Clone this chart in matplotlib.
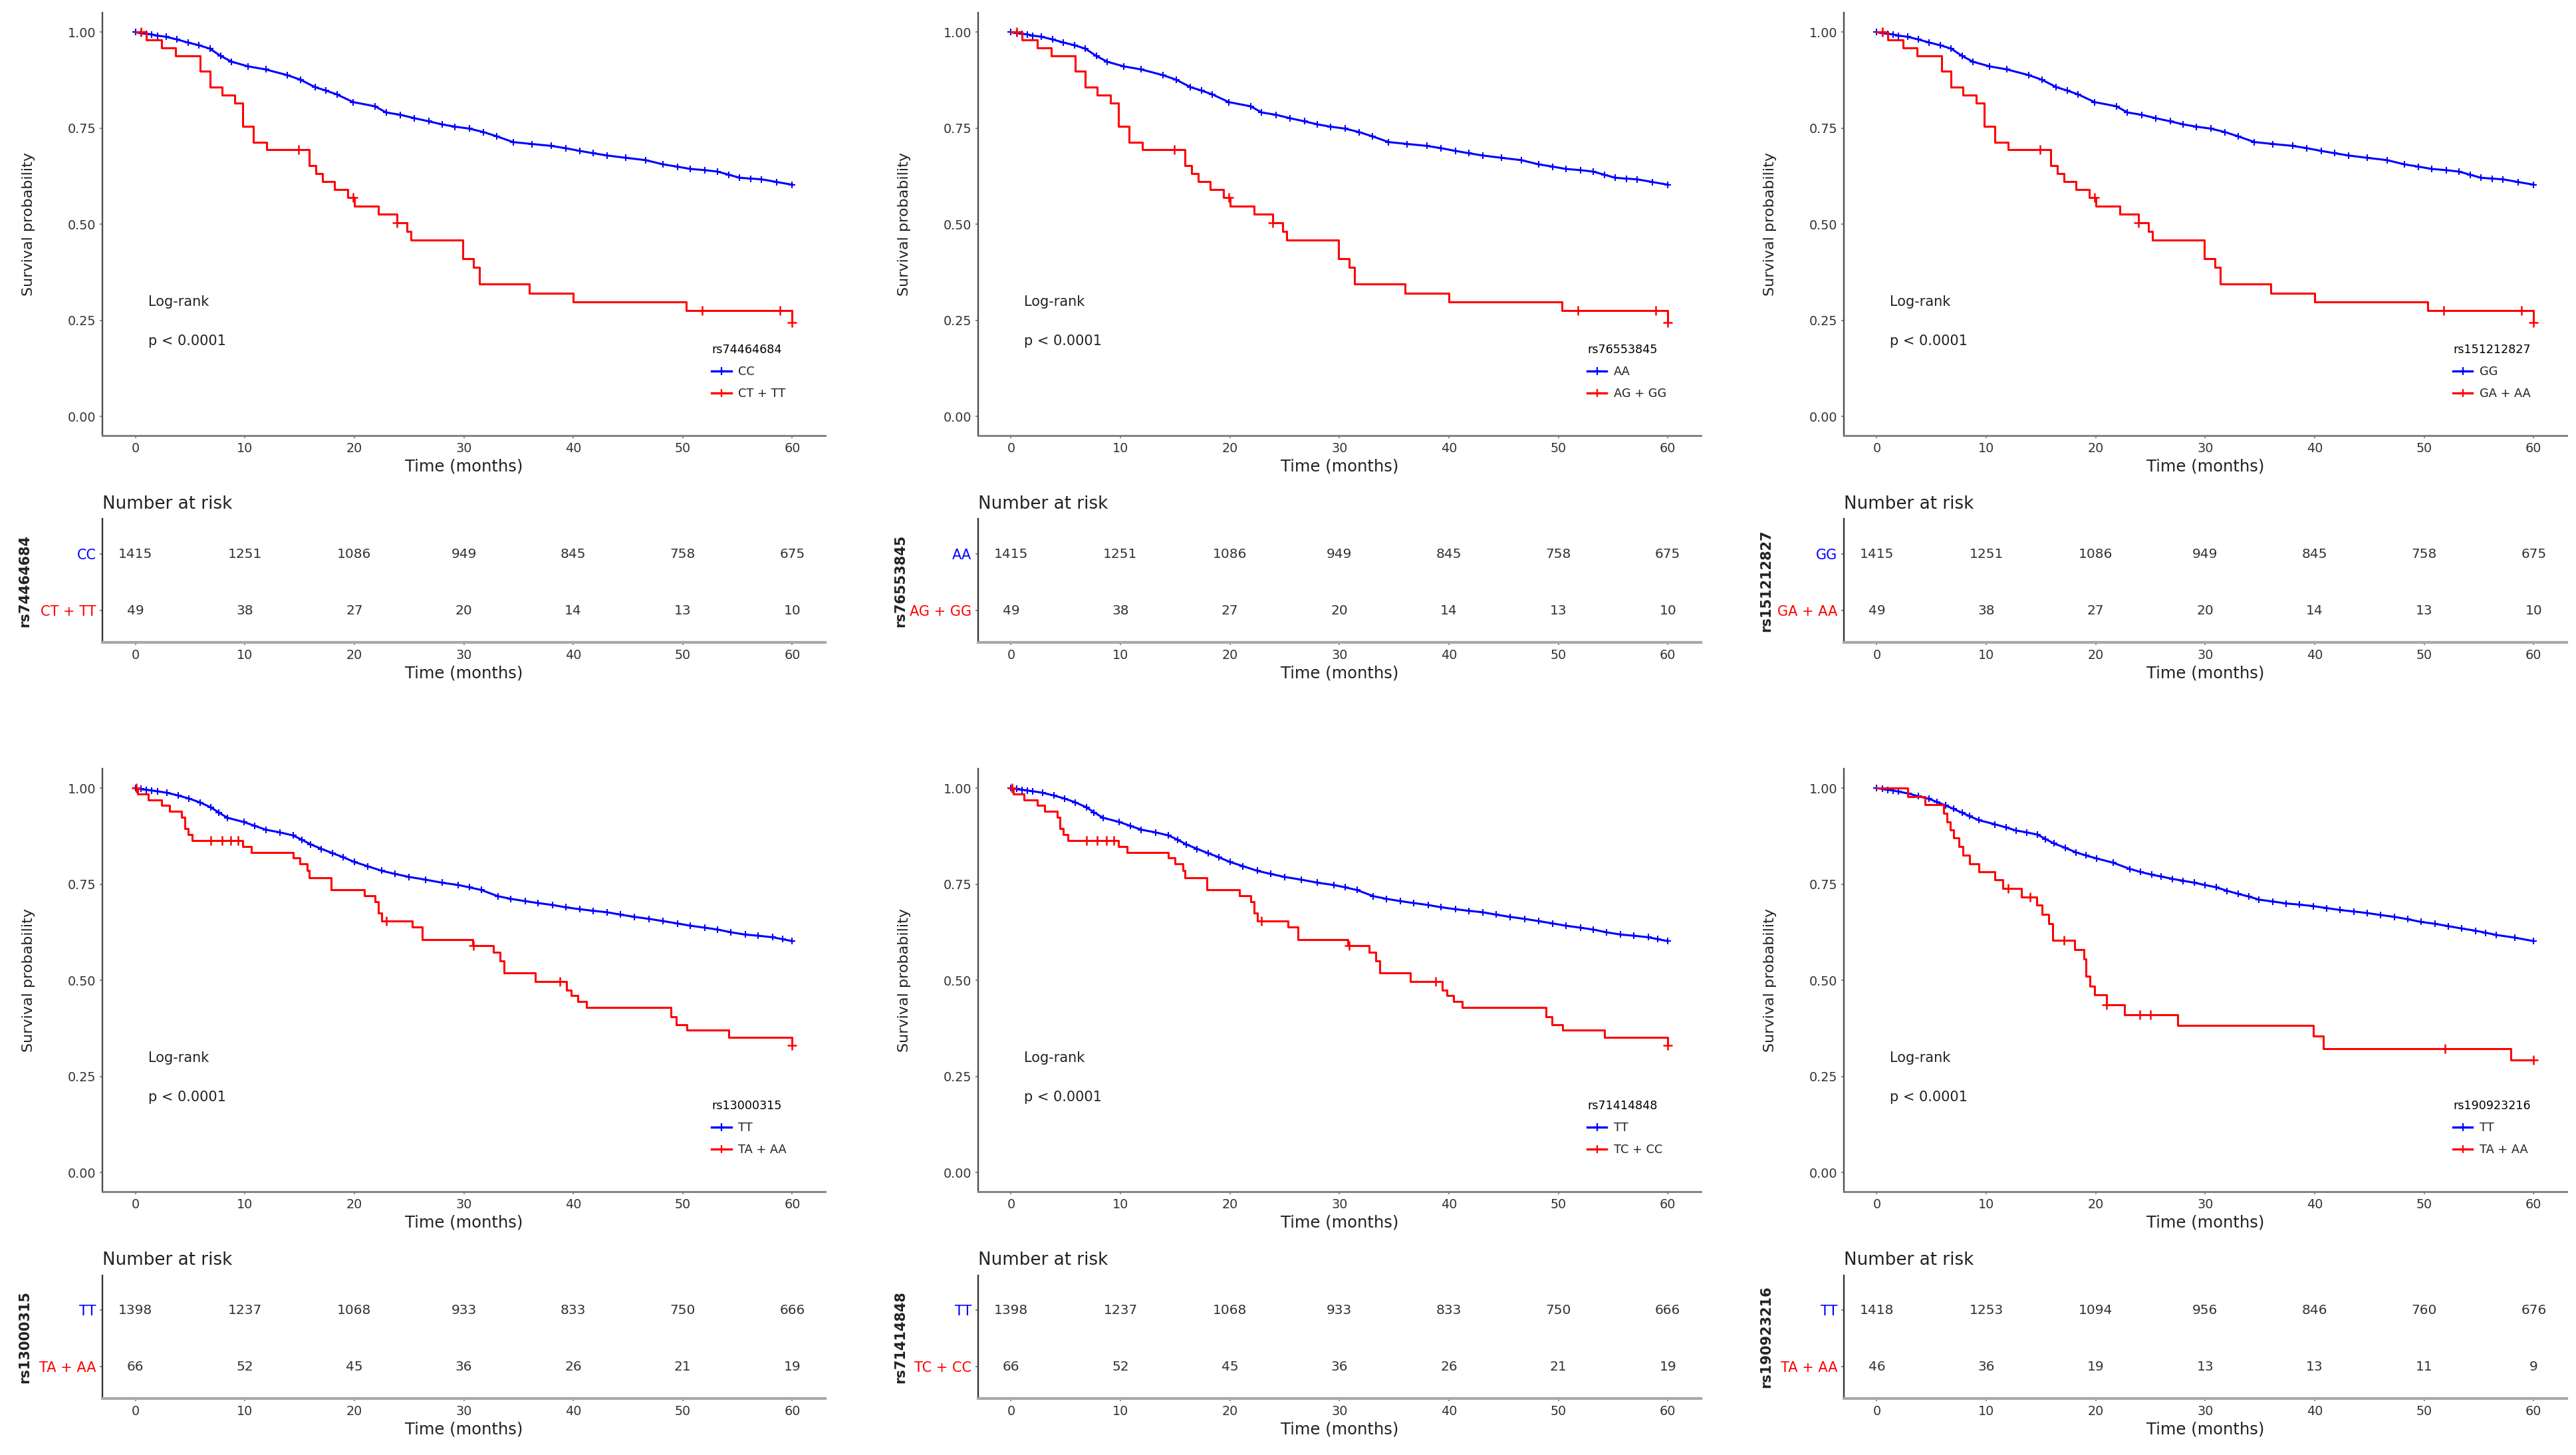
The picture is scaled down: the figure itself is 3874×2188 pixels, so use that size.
"""
Kaplan-Meier curves + number-at-risk tables, 2 x 3 panels
"""

import numpy as np
import matplotlib
matplotlib.use('Agg')
from matplotlib import pyplot as plt
from matplotlib.lines import Line2D

plt.rcParams['font.family'] = ['DejaVu Sans']

# ---- panel labels ----
snp_names = ['rs74464684', 'rs76553845', 'rs151212827', 'rs13000315', 'rs71414848', 'rs190923216']
ref_groups = ['CC', 'AA', 'GG', 'TT', 'TT', 'TT']
alt_groups = ['CT + TT', 'AG + GG', 'GA + AA', 'TA + AA', 'TC + CC', 'TA + AA']
curve_set = ['a', 'a', 'a', 'b', 'b', 'c']

risk_times = [0, 10, 20, 30, 40, 50, 60]

# ---- curve set a (rs74464684 / rs76553845 / rs151212827) ----
blue_t_a = [0, 0.5, 1.0, 1.5, 2.0, 2.8, 3.8, 4.8, 5.8, 6.8, 7.8, 8.8, 10.3, 11.9, 13.9, 15.1, 16.4, 17.4, 18.4, 19.9,
            21.9, 22.9, 24.2, 25.5, 26.8, 28.0, 29.2, 30.5, 31.8, 33.0, 34.5, 36.2, 38.0, 39.3, 40.6, 41.8, 43.1,
            44.8, 46.6, 48.2, 49.5, 50.7, 52.0, 53.2, 54.2, 55.2, 56.2, 57.2, 58.6, 60.0]
blue_s_a = [1.0, 0.998, 0.996, 0.994, 0.991, 0.988, 0.981, 0.973, 0.966, 0.957, 0.938, 0.923, 0.911, 0.903, 0.888,
            0.876, 0.857, 0.848, 0.838, 0.818, 0.807, 0.791, 0.785, 0.776, 0.768, 0.760, 0.754, 0.749, 0.740, 0.729,
            0.714, 0.709, 0.704, 0.698, 0.691, 0.685, 0.679, 0.673, 0.667, 0.656, 0.650, 0.644, 0.641, 0.637, 0.629,
            0.621, 0.619, 0.617, 0.610, 0.603]
red_t_a = [0, 1.0, 2.4, 3.7, 5.9, 6.8, 7.9, 9.1, 9.8, 10.8, 12.0, 15.9, 16.5, 17.1, 18.2, 19.4, 20.0, 22.2, 23.9,
           24.8, 25.2, 29.9, 30.9, 31.4, 36.0, 40.0, 50.3, 60.0]
red_s_a = [1.0, 0.980, 0.959, 0.939, 0.898, 0.857, 0.837, 0.816, 0.755, 0.714, 0.694, 0.652, 0.632, 0.611, 0.590,
           0.569, 0.548, 0.527, 0.504, 0.481, 0.459, 0.411, 0.388, 0.344, 0.321, 0.298, 0.275, 0.245]
red_cens_a = [0.5, 14.9, 19.9, 23.9, 51.8, 58.9, 60.0]
risk_ref_a = [1415, 1251, 1086, 949, 845, 758, 675]
risk_alt_a = [49, 38, 27, 20, 14, 13, 10]

# ---- curve set b (rs13000315 / rs71414848) ----
blue_t_b = [0, 0.5, 1.0, 1.5, 2.0, 2.9, 3.9, 4.9, 5.9, 6.9, 7.6, 8.4, 9.9, 10.9, 11.9, 13.2, 14.4, 15.2, 16.0, 17.0,
            18.0, 19.0, 20.0, 21.2, 22.5, 23.7, 25.0, 26.5, 28.0, 29.5, 30.5, 31.6, 33.1, 34.3, 35.6, 36.8, 38.1,
            39.3, 40.6, 41.8, 43.1, 44.3, 45.6, 46.9, 48.2, 49.5, 50.7, 52.0, 53.2, 54.4, 55.7, 56.9, 58.2, 59.1, 60.0]
blue_s_b = [1.0, 0.998, 0.996, 0.994, 0.992, 0.988, 0.981, 0.973, 0.963, 0.950, 0.937, 0.923, 0.912, 0.902, 0.892,
            0.885, 0.877, 0.866, 0.854, 0.842, 0.831, 0.820, 0.808, 0.797, 0.785, 0.777, 0.769, 0.762, 0.754, 0.748,
            0.742, 0.735, 0.719, 0.712, 0.706, 0.701, 0.696, 0.690, 0.685, 0.681, 0.677, 0.671, 0.665, 0.660, 0.654,
            0.648, 0.642, 0.637, 0.632, 0.625, 0.619, 0.616, 0.612, 0.607, 0.602]
red_t_b = [0, 0.2, 1.2, 2.4, 3.1, 4.2, 4.5, 4.8, 5.2, 9.8, 10.6, 14.4, 15.0, 15.7, 15.9, 17.9, 20.9, 21.9, 22.2, 22.5,
           25.3, 26.2, 30.8, 32.7, 33.3, 33.7, 36.5, 39.4, 39.8, 40.4, 41.2, 48.9, 49.4, 50.4, 54.2, 60.0]
red_s_b = [1.0, 0.985, 0.970, 0.955, 0.940, 0.925, 0.894, 0.879, 0.864, 0.848, 0.833, 0.818, 0.803, 0.785, 0.766,
           0.735, 0.720, 0.705, 0.675, 0.654, 0.638, 0.606, 0.590, 0.573, 0.550, 0.520, 0.497, 0.475, 0.460, 0.445,
           0.430, 0.405, 0.385, 0.370, 0.352, 0.330]
red_cens_b = [0.1, 6.9, 7.9, 8.7, 9.4, 22.9, 30.9, 38.8, 60.0]
risk_ref_b = [1398, 1237, 1068, 933, 833, 750, 666]
risk_alt_b = [66, 52, 45, 36, 26, 21, 19]

# ---- curve set c (rs190923216) ----
blue_t_c = [0, 0.5, 1.0, 1.5, 2.0, 2.9, 3.8, 4.8, 5.5, 6.3, 7.0, 7.8, 8.5, 9.3, 10.8, 11.8, 12.7, 13.7, 14.7, 15.4,
            16.2, 17.2, 18.2, 19.1, 20.1, 21.6, 23.1, 24.1, 25.1, 26.0, 27.0, 28.0, 29.0, 30.0, 31.0, 32.0, 33.0,
            34.0, 34.9, 36.2, 37.4, 38.6, 39.9, 41.1, 42.3, 43.6, 44.8, 46.0, 47.3, 48.5, 49.7, 51.0, 52.2, 53.4,
            54.7, 55.6, 56.6, 58.3, 60.0]
blue_s_c = [1.0, 0.998, 0.996, 0.994, 0.991, 0.986, 0.979, 0.972, 0.964, 0.955, 0.946, 0.936, 0.927, 0.917, 0.906,
            0.898, 0.890, 0.885, 0.879, 0.868, 0.856, 0.845, 0.833, 0.825, 0.817, 0.806, 0.790, 0.782, 0.775, 0.770,
            0.764, 0.759, 0.754, 0.748, 0.742, 0.733, 0.725, 0.718, 0.710, 0.705, 0.700, 0.697, 0.693, 0.688, 0.683,
            0.679, 0.675, 0.670, 0.665, 0.659, 0.652, 0.647, 0.641, 0.635, 0.629, 0.624, 0.618, 0.611, 0.602]
red_t_c = [0, 2.8, 4.4, 6.1, 6.4, 6.7, 7.05, 7.5, 7.9, 8.5, 9.3, 10.8, 11.5, 13.2, 14.6, 15.1, 15.7, 16.1, 18.1,
           18.9, 19.1, 19.5, 19.9, 21.0, 22.6, 27.5, 39.9, 40.8, 57.9]
red_s_c = [1.0, 0.978, 0.957, 0.935, 0.913, 0.891, 0.870, 0.848, 0.826, 0.804, 0.783, 0.761, 0.739, 0.717, 0.696,
           0.672, 0.648, 0.604, 0.580, 0.556, 0.510, 0.484, 0.462, 0.437, 0.410, 0.382, 0.355, 0.322, 0.293]
red_cens_c = [12.0, 14.0, 17.1, 21.0, 24.0, 25.0, 51.9, 60.0]
risk_ref_c = [1418, 1253, 1094, 956, 846, 760, 676]
risk_alt_c = [46, 36, 19, 13, 13, 11, 9]

curves = {
    'a': (blue_t_a, blue_s_a, red_t_a, red_s_a, red_cens_a, risk_ref_a, risk_alt_a),
    'b': (blue_t_b, blue_s_b, red_t_b, red_s_b, red_cens_b, risk_ref_b, risk_alt_b),
    'c': (blue_t_c, blue_s_c, red_t_c, red_s_c, red_cens_c, risk_ref_c, risk_alt_c),
}

BLUE = '#0000FF'
RED = '#FF0000'
TXT = '#222222'

col_left = [0.0398, 0.3797, 0.7158]
ax_w = 0.2805
km_bottom = [0.7006, 0.1810]
km_h = 0.2905
tab_bottom = [0.5585, 0.0388]
tab_h = 0.0848


# #
# @ 坐标轴样式
# #
def styleAxis(ax, tab=False):
    ax.spines['top'].set_visible(False)
    ax.spines['right'].set_visible(False)
    ax.spines['left'].set_color('#333333' if tab else '#4d4d4d')
    ax.spines['left'].set_linewidth(1.7)
    ax.spines['bottom'].set_color('#a8a8a8' if tab else '#7a7a7a')
    ax.spines['bottom'].set_linewidth(3 if tab else 2)
    ax.tick_params(axis='both', length=3, width=1.2, color='#777777', labelsize=13.8,
                   labelcolor='#333333', pad=4)
    ax.set_xlim(-3, 63)
    ax.set_xticks(risk_times)
    ax.set_xlabel('Time (months)', fontsize=17.5, color=TXT, labelpad=4)


# #
# @ 生存曲线
# #
def plotKM(ax, i):
    bt, bs, rt, rs, rc, _, _ = curves[curve_set[i]]
    rt = np.array(rt)
    rs = np.array(rs)
    if rt[-1] < max(rc):
        rt = np.append(rt, max(rc))
        rs = np.append(rs, rs[-1])

    ax.plot(bt, bs, color=BLUE, lw=2.2, marker='+', ms=7.5, mew=1.5, zorder=3)
    ax.step(rt, rs, where='post', color=RED, lw=2.2, zorder=4)
    cy = rs[np.searchsorted(rt, rc, side='right') - 1]
    ax.plot(rc, cy, ls='none', marker='+', ms=10, mew=1.8, color=RED, zorder=5)

    styleAxis(ax)
    ax.set_ylim(-0.05, 1.05)
    ax.set_yticks([0, 0.25, 0.5, 0.75, 1.0])
    ax.set_yticklabels(['0.00', '0.25', '0.50', '0.75', '1.00'])
    ax.set_ylabel('Survival probability', fontsize=16, color=TXT)
    ax.yaxis.set_label_coords(-0.093, 0.5)

    ax.text(1.2, 0.298, 'Log-rank', fontsize=15, color=TXT, va='center', ha='left')
    ax.text(1.2, 0.196, 'p < 0.0001', fontsize=15, color=TXT, va='center', ha='left')

    handles = [Line2D([], [], color=BLUE, lw=2.4, marker='+', ms=9, mew=1.6),
               Line2D([], [], color=RED, lw=2.4, marker='+', ms=9, mew=1.6)]
    ax.legend(handles, [ref_groups[i], alt_groups[i]], title=snp_names[i], loc='upper left',
              bbox_to_anchor=(0.843, 0.217), frameon=False, fontsize=12.8, title_fontsize=12.6,
              handlelength=1.65, handletextpad=0.6, labelspacing=0.85, alignment='left',
              borderpad=0, borderaxespad=0, labelcolor=TXT)


# #
# @ 风险人数表
# #
def plotRisk(ax, i):
    _, _, _, _, _, nref, nalt = curves[curve_set[i]]
    for t, n in zip(risk_times, nref):
        ax.text(t, 2, str(n), ha='center', va='center', fontsize=14.5, color='#333333')
    for t, n in zip(risk_times, nalt):
        ax.text(t, 1, str(n), ha='center', va='center', fontsize=14.5, color='#333333')

    styleAxis(ax, tab=True)
    ax.set_ylim(0.435, 2.62)
    ax.set_yticks([1, 2])
    ax.set_yticklabels([alt_groups[i], ref_groups[i]], fontsize=15)
    for lbl, c in zip(ax.get_yticklabels(), [RED, BLUE]):
        lbl.set_color(c)
    ax.set_ylabel(snp_names[i], fontsize=15, fontweight='bold', color=TXT)
    ax.yaxis.set_label_coords(-0.098, 0.5)
    ax.annotate('Number at risk', xy=(0, 1), xycoords='axes fraction', xytext=(0, 7),
                textcoords='offset points', ha='left', va='bottom', fontsize=18.8, color=TXT)


fig = plt.figure(figsize=(38.74, 21.88), dpi=100)

for i in range(6):
    row, col = divmod(i, 3)
    axKM = fig.add_axes([col_left[col], km_bottom[row], ax_w, km_h])
    plotKM(axKM, i)
    axTab = fig.add_axes([col_left[col], tab_bottom[row], ax_w, tab_h])
    plotRisk(axTab, i)

fig.savefig('out.png', dpi=100, facecolor='white')
